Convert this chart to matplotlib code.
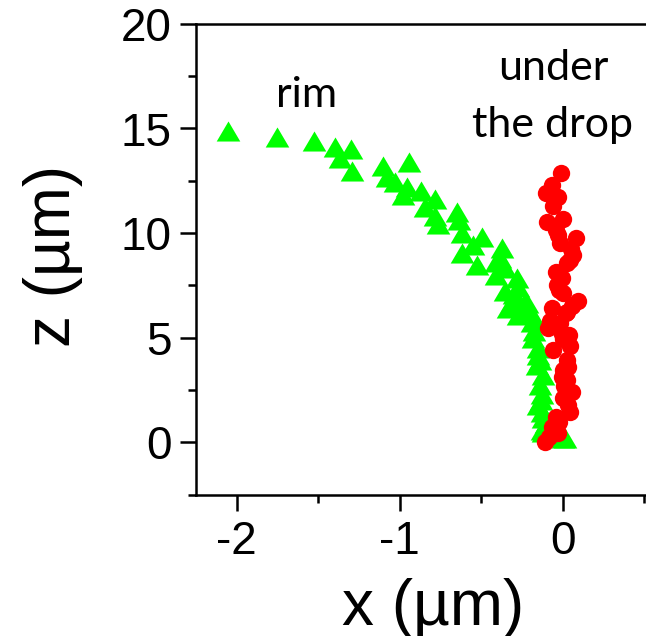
import matplotlib.pyplot as plt
from matplotlib.ticker import MultipleLocator

# rim trajectory (green triangles)
rim_x = [-2.055, -1.751, -1.524, -1.397, -1.300, -1.366, -1.294, -1.100, -0.943,
         -1.076, -1.029, -0.957, -0.978, -0.871, -0.783, -0.845, -0.783, -0.763,
         -0.650, -0.634, -0.620, -0.497, -0.548, -0.620, -0.528, -0.374, -0.385,
         -0.354, -0.409, -0.282, -0.354, -0.272, -0.231, -0.313, -0.221, -0.334,
         -0.272, -0.190, -0.170, -0.180, -0.150, -0.160, -0.119, -0.139, -0.150,
         -0.150, -0.119, -0.119, -0.129, 0.004, 0.014, -0.175, -0.140, -0.130,
         -0.135, -0.125, -0.105, -0.070, -0.410, -0.300, -0.205]
rim_z = [14.90, 14.58, 14.39, 14.13, 14.00, 13.59, 12.97, 13.22, 13.38,
         12.70, 12.46, 12.22, 11.82, 12.01, 11.63, 11.26, 10.82, 10.43,
         11.02, 10.63, 9.99, 9.83, 9.43, 9.03, 8.46, 9.27, 8.80,
         8.32, 8.00, 7.84, 7.24, 7.44, 6.72, 6.72, 6.64, 6.44,
         6.09, 5.76, 5.85, 4.97, 4.49, 3.69, 3.22, 2.74, 1.78,
         4.17, 1.15, 0.51, 0.59, 0.19, 0.19, 5.30, 3.95, 2.30,
         2.00, 1.45, 0.90, 0.30, 8.60, 7.10, 6.30]

# under-the-drop trajectory (red circles)
drop_x = [-0.010, -0.068, -0.103, -0.027, -0.061, -0.098, 0.000, -0.041, -0.017,
          0.080, 0.065, 0.025, -0.041, -0.006, -0.033, 0.000, 0.096, -0.068,
          0.025, -0.088, -0.017, -0.006, -0.058, 0.045, 0.025, 0.004, 0.025,
          0.055, 0.004, 0.045, -0.041, -0.068, -0.027, -0.109, 0.035, -0.006,
          0.035, -0.047, 0.020, 0.004, -0.030, 0.050, 0.045, -0.020, 0.055,
          -0.075, 0.040, 0.010, -0.020, -0.085]
drop_z = [12.89, 12.30, 11.90, 11.74, 11.30, 10.55, 10.66, 10.15, 9.54,
          9.75, 8.95, 8.56, 8.15, 7.84, 7.52, 7.12, 6.77, 6.41,
          6.24, 5.45, 5.69, 5.20, 4.41, 4.60, 3.93, 3.46, 2.98,
          2.42, 2.10, 1.46, 1.22, 0.75, 0.43, 0.03, 3.61, 3.14,
          1.80, 0.59, 6.20, 4.95, 9.90, 9.25, 8.70, 7.30, 6.50,
          5.80, 5.15, 2.70, 0.95, 0.25]

x_ticks = [-2, -1, 0]
z_ticks = [0, 5, 10, 15, 20]

plt.rcParams['font.family'] = ['Liberation Sans', 'DejaVu Sans']
plt.rcParams['axes.unicode_minus'] = False

fig = plt.figure(figsize=(6.46, 6.36), dpi=100)
ax = fig.add_axes([196 / 646, 1 - 494.6 / 636, 450 / 646, (494.6 - 23.9) / 636])

tri = [(0, 0.85), (-1, -0.85), (1, -0.85)]
ax.scatter(rim_x, rim_z, marker=tri, s=17 ** 2, color='#00ff00', linewidths=0, zorder=3)
ax.scatter(drop_x, drop_z, marker='o', s=12.5 ** 2, color='#ff0000', linewidths=0, zorder=4)

ax.set_xlim(-2.25, 0.511)
ax.set_ylim(-2.5, 20)
ax.set_xticks(x_ticks)
ax.set_yticks(z_ticks)
ax.xaxis.set_minor_locator(MultipleLocator(0.5))
ax.yaxis.set_minor_locator(MultipleLocator(2.5))

for side in ['left', 'bottom', 'top']:
    ax.spines[side].set_linewidth(1.8)
ax.spines['right'].set_visible(False)
ax.tick_params(which='major', length=11.5, width=1.8, labelsize=33, direction='out')
ax.tick_params(axis='y', which='major', pad=6)
ax.tick_params(axis='x', which='major', pad=7)
ax.tick_params(which='minor', length=6, width=1.8, direction='out')

ax.set_xlabel('x (µm)', fontsize=46, va='baseline')
ax.xaxis.set_label_coords(0.527, -0.276)
ax.set_ylabel('z (µm)', fontsize=46, va='baseline', ha='center', rotation_mode='anchor')
ax.yaxis.set_label_coords(-0.28, 0.506)

ax.text(-1.571, 16.01, 'rim', fontsize=31, family='Lato', ha='center', va='baseline')
ax.text(-0.06, 17.3, 'under', fontsize=31, family='Lato', ha='center', va='baseline')
ax.text(-0.06, 14.6, 'the drop', fontsize=31, family='Lato', ha='center', va='baseline')

fig.savefig('out.png', dpi=100)
